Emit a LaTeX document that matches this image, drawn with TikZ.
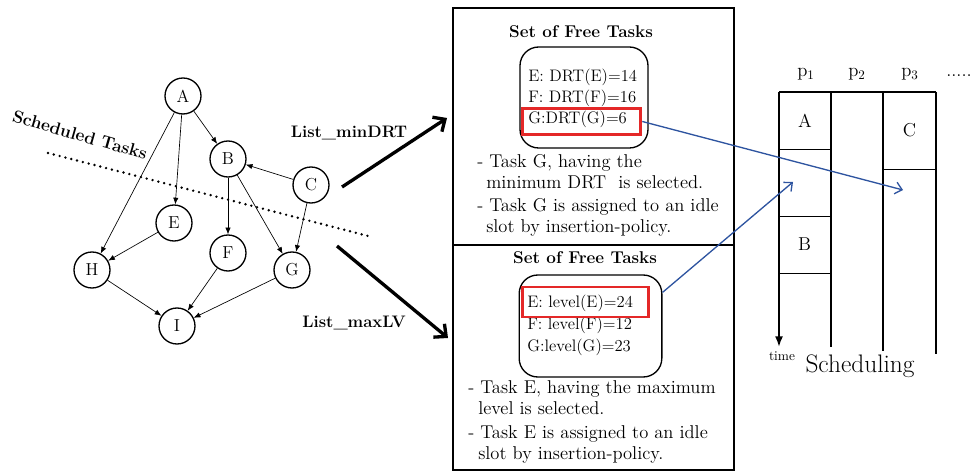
\documentclass[tikz,border=0pt]{standalone}
\usepackage{amsmath}
\usepackage{tikz}
\usetikzlibrary{positioning,arrows,arrows.meta,calc,shapes}
\usepackage{xcolor}
\definecolor{pickblue}{RGB}{46,84,160}
\definecolor{selred}{RGB}{228,40,40}

\begin{document}
\begin{tikzpicture}[x=0.75pt,y=-0.75pt,
        task/.style={circle,draw,line width=1pt,minimum size=27pt,inner sep=0pt,font=\fontsize{13}{15}\selectfont},
        dep/.style={-{Latex[length=5pt,width=4pt]},line width=0.5pt},
        lbl/.style={font=\bfseries\fontsize{12.5}{14}\selectfont},
        head/.style={font=\bfseries\fontsize{12.8}{15}\selectfont,anchor=base},
        setbox/.style={draw,line width=1pt,rounded corners=14pt},
        sel/.style={draw=selred,line width=2.2pt,inner sep=0pt},
        txt/.style={font=\fontsize{12.5}{15}\selectfont,inner sep=0pt,anchor=base west},
        note/.style={font=\fontsize{13.9}{16}\selectfont,inner sep=0pt,anchor=base west},
        slot/.style={draw,line width=0.6pt,inner sep=0pt,font=\fontsize{14}{16}\selectfont},
        pick/.style={-{Straight Barb[length=5pt,width=9pt]},line width=1pt,draw=pickblue},
        big/.style={-{Straight Barb[length=7pt,width=13pt]},line width=2.5pt}]
    \useasboundingbox (0,0) rectangle (977,473);

    % task graph
    \node[task] (a) at (183,96)  {A};
    \node[task] (b) at (228,159) {B};
    \node[task] (c) at (311,185) {C};
    \node[task] (e) at (174,223) {E};
    \node[task] (f) at (228,253) {F};
    \node[task] (g) at (292,270) {G};
    \node[task] (h) at (92,270)  {H};
    \node[task] (i) at (177,326) {I};

    \begin{scope}[dep]
        \draw (a) -- (b);
        \draw (a) -- (e);
        \draw (a) -- (h);
        \draw (b) -- (f);
        \draw (b) -- (g);
        \draw (c) -- (b);
        \draw (c) -- (g);
        \draw (e) -- (h);
        \draw (h) -- (i);
        \draw (f) -- (i);
        \draw (g) -- (i);
    \end{scope}

    \coordinate (cutl) at (48,153);
    \coordinate (cutr) at (372,237);
    \draw[line width=2pt,line cap=round,dash pattern=on 0pt off 4.5pt] (cutl) -- (cutr);
    \node[lbl,font=\bfseries\fontsize{13}{15}\selectfont,rotate=-16] (done) at (80,135) {Scheduled Tasks};

    \node[lbl] (mindrt) at (349,133) {List\_minDRT};
    \node[lbl] (maxlv)  at (354,323) {List\_maxLV};

    \coordinate (up0) at (342,187);
    \coordinate (up1) at (447,118);
    \coordinate (dn0) at (337,246);
    \coordinate (dn1) at (448,338);
    \draw[big] (up0) -- (up1);
    \draw[big] (dn0) -- (dn1);

    % free task sets
    \draw[line width=1pt] (453,8) rectangle (734,470);
    \draw[line width=1pt] (453,245) -- (734,245);

    \node[head] (setA) at (581,38) {Set of Free Tasks};
    \node[setbox,minimum width=96pt,minimum height=75.75pt] (freeA) at (584,97.5) {};
    \node[txt] (ea) at (528,82)  {E: DRT(E)=14};
    \node[txt] (fa) at (528,103) {F: DRT(F)=16};
    \node[txt] (ga) at (528,124) {G:DRT(G)=6};
    \node[sel,minimum width=89pt,minimum height=20pt] (selA) at (581.5,121.5) {};
    \node[note] (ta1) at (477,168) {- Task G, having the};
    \node[note] (ta2) at (486,189) {minimum DRT\ \ is selected.};
    \node[note] (ta3) at (477,212) {- Task G is assigned to an idle};
    \node[note] (ta4) at (486,233) {slot by insertion-policy.};

    \node[head] (setB) at (585,264) {Set of Free Tasks};
    \node[setbox,minimum width=107pt,minimum height=76.5pt] (freeB) at (590.5,326) {};
    \node[txt] (eb) at (527,308) {E: level(E)=24};
    \node[txt] (fb) at (527,330) {F: level(F)=12};
    \node[txt] (gb) at (527,352) {G:level(G)=23};
    \node[sel,minimum width=94pt,minimum height=22.5pt] (selB) at (585.5,302) {};
    \node[note] (tb1) at (468,394) {- Task E, having the maximum};
    \node[note] (tb2) at (478,415) {level is selected.};
    \node[note] (tb3) at (468,438) {- Task E is assigned to an idle};
    \node[note] (tb4) at (478,459) {slot by insertion-policy.};

    % scheduling
    \node[slot,minimum width=39pt,minimum height=42.75pt] (sa) at (805,120.5) {A};
    \node[slot,minimum width=39.75pt,minimum height=42.75pt] (sb) at (804.5,244.5) {B};
    \node[slot,minimum width=39.75pt,minimum height=57.75pt] (sc) at (909.5,130.5) {C};

    \coordinate (p1top) at (779,92);
    \coordinate (p1end) at (779,347);
    \coordinate (p2top) at (831,92);
    \coordinate (p2end) at (831,347);
    \coordinate (p3top) at (883,92);
    \coordinate (p3end) at (883,351);
    \coordinate (p4top) at (936,92);
    \coordinate (p4end) at (936,354);
    \begin{scope}[line width=1.3pt]
        \draw (p1top) -- (p4top);
        \draw[-{Latex[length=8pt,width=6pt]}] (p1top) -- (p1end);
        \draw (p2top) -- (p2end);
        \draw (p3top) -- (p3end);
        \draw (p4top) -- (p4end);
    \end{scope}

    \node[anchor=base,font=\fontsize{14}{16}\selectfont] (p1) at (806,77) {p\textsubscript{1}};
    \node[anchor=base,font=\fontsize{14}{16}\selectfont] (p2) at (857,77) {p\textsubscript{2}};
    \node[anchor=base,font=\fontsize{14}{16}\selectfont] (p3) at (910,77) {p\textsubscript{3}};
    \node[anchor=base,font=\fontsize{14}{16}\selectfont] (more) at (959,77) {.....};
    \node[anchor=base,font=\fontsize{10}{11}\selectfont] (time) at (782,361) {time};
    \node[anchor=base,font=\fontsize{19}{21}\selectfont] (sched) at (860,373) {Scheduling};

    \coordinate (gapA) at (793,182);
    \coordinate (gapC) at (903,190);
    \draw[pick] (selA.east) -- (gapC);
    \draw[pick] (freeB.25) -- (gapA);
\end{tikzpicture}
\end{document}
